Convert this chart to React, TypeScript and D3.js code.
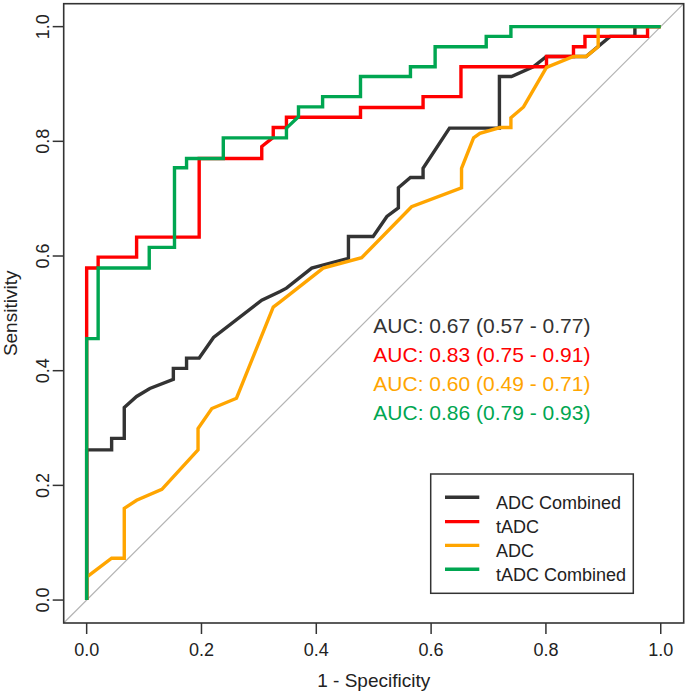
import React from "react";
import * as d3 from "d3";

const seriesNames = ["ADC Combined", "tADC", "ADC", "tADC Combined"];
const seriesColors = ["#333333", "#FF0000", "#FFA500", "#00A651"];
const aucLabels = [
  "AUC: 0.67 (0.57 - 0.77)",
  "AUC: 0.83 (0.75 - 0.91)",
  "AUC: 0.60 (0.49 - 0.71)",
  "AUC: 0.86 (0.79 - 0.93)",
];

const adcCombinedFpr = [0, 0, 0.0435, 0.0435, 0.0655, 0.0655, 0.087, 0.110, 0.151, 0.151, 0.174, 0.174, 0.196, 0.221, 0.305, 0.337, 0.348, 0.392, 0.456, 0.456, 0.499, 0.523, 0.543, 0.543, 0.564, 0.586, 0.586, 0.632, 0.719, 0.719, 0.740, 0.778, 0.801, 0.87, 0.912, 0.955, 0.955, 1];
const adcCombinedTpr = [0, 0.262, 0.262, 0.282, 0.282, 0.336, 0.355, 0.369, 0.385, 0.404, 0.404, 0.422, 0.422, 0.458, 0.523, 0.538, 0.544, 0.579, 0.596, 0.634, 0.634, 0.669, 0.684, 0.719, 0.737, 0.737, 0.753, 0.823, 0.823, 0.913, 0.913, 0.930, 0.948, 0.948, 0.983, 0.983, 1, 1];

const tadcFpr = [0, 0, 0.020, 0.020, 0.087, 0.087, 0.196, 0.196, 0.305, 0.305, 0.325, 0.325, 0.348, 0.348, 0.477, 0.477, 0.586, 0.586, 0.652, 0.652, 0.801, 0.801, 0.848, 0.848, 0.868, 0.868, 0.977, 0.977, 1];
const tadcTpr = [0, 0.579, 0.579, 0.598, 0.598, 0.633, 0.633, 0.770, 0.770, 0.791, 0.807, 0.824, 0.824, 0.842, 0.842, 0.859, 0.859, 0.878, 0.878, 0.930, 0.930, 0.948, 0.948, 0.965, 0.965, 0.983, 0.983, 1, 1];

const adcFpr = [0, 0, 0.0435, 0.0655, 0.0655, 0.087, 0.131, 0.194, 0.194, 0.218, 0.261, 0.325, 0.337, 0.412, 0.479, 0.566, 0.653, 0.653, 0.674, 0.685, 0.720, 0.739, 0.739, 0.761, 0.801, 0.848, 0.870, 0.891, 0.891, 1];
const adcTpr = [0, 0.040, 0.073, 0.073, 0.160, 0.174, 0.193, 0.262, 0.299, 0.334, 0.352, 0.511, 0.520, 0.579, 0.597, 0.686, 0.719, 0.753, 0.806, 0.814, 0.824, 0.824, 0.841, 0.860, 0.929, 0.948, 0.948, 0.965, 1, 1];

const tadcCombinedFpr = [0, 0, 0.020, 0.020, 0.109, 0.109, 0.153, 0.153, 0.174, 0.174, 0.238, 0.238, 0.348, 0.348, 0.369, 0.369, 0.411, 0.411, 0.477, 0.477, 0.564, 0.564, 0.607, 0.607, 0.696, 0.696, 0.739, 0.739, 1];
const tadcCombinedTpr = [0, 0.456, 0.456, 0.579, 0.579, 0.615, 0.615, 0.754, 0.754, 0.770, 0.770, 0.806, 0.806, 0.823, 0.843, 0.860, 0.860, 0.878, 0.878, 0.913, 0.913, 0.930, 0.930, 0.965, 0.965, 0.983, 0.983, 1, 1];

const tickValues = [0, 0.2, 0.4, 0.6, 0.8, 1.0];
const tickLabels = ["0.0", "0.2", "0.4", "0.6", "0.8", "1.0"];

const W = 685;
const H = 693;
const FONT = "'Liberation Sans', Arial, sans-serif";

export default function App() {
  const left = 63.7, right = 683.7, top = 3.7, bottom = 623;
  const x = d3.scaleLinear().domain([-0.04, 1.04]).range([left, right]);
  const y = d3.scaleLinear().domain([-0.04, 1.04]).range([bottom, top]);

  const series = [
    [adcCombinedFpr, adcCombinedTpr],
    [tadcFpr, tadcTpr],
    [adcFpr, adcTpr],
    [tadcCombinedFpr, tadcCombinedTpr],
  ];
  const line = d3
    .line<[number, number]>()
    .x((d) => x(d[0]))
    .y((d) => y(d[1]));

  const legendRows = [497.3, 521.6, 545.4, 569.3];

  return (
    <svg
      width={W}
      height={H}
      style={{ position: "absolute", left: 0, top: 0, background: "#fff" }}
      fontFamily={FONT}
    >
      <rect x={0} y={0} width={W} height={H} fill="#fff" />
      {/* diagonal */}
      <line x1={x(-0.04)} y1={y(-0.04)} x2={x(1.04)} y2={y(1.04)} stroke="#b4b4b4" strokeWidth={1.2} />
      {/* curves */}
      {series.map(([fx, fy], i) => (
        <path
          key={i}
          d={line(fx.map((v, j) => [v, fy[j]] as [number, number])) || ""}
          fill="none"
          stroke={seriesColors[i]}
          strokeWidth={3.4}
          strokeLinejoin="miter"
        />
      ))}
      {/* box */}
      <rect x={left} y={top} width={right - left} height={bottom - top} fill="none" stroke="#333" strokeWidth={1.6} />
      {/* x ticks */}
      {tickValues.map((t, i) => (
        <g key={"xt" + i}>
          <line x1={x(t)} x2={x(t)} y1={bottom} y2={bottom + 11} stroke="#333" strokeWidth={1.5} />
          <text x={x(t)} y={656} textAnchor="middle" fontSize={18} fill="#222">
            {tickLabels[i]}
          </text>
        </g>
      ))}
      {/* y ticks */}
      {tickValues.map((t, i) => (
        <g key={"yt" + i}>
          <line x1={left} x2={left - 11} y1={y(t)} y2={y(t)} stroke="#333" strokeWidth={1.5} />
          <text
            transform={`translate(49,${y(t)}) rotate(-90)`}
            textAnchor="middle"
            fontSize={18}
            fill="#222"
          >
            {tickLabels[i]}
          </text>
        </g>
      ))}
      {/* axis titles */}
      <text x={(left + right) / 2} y={687} textAnchor="middle" fontSize={19} fill="#222">
        1 - Specificity
      </text>
      <text transform={`translate(17,${(top + bottom) / 2}) rotate(-90)`} textAnchor="middle" fontSize={19} fill="#222">
        Sensitivity
      </text>
      {/* AUC labels */}
      {aucLabels.map((s, i) => (
        <text key={"auc" + i} x={373.3} y={333.3 + i * 28.9} fontSize={21} fill={seriesColors[i]}>
          {s}
        </text>
      ))}
      {/* legend */}
      <rect x={430.7} y={474} width={633.3 - 430.7} height={593.3 - 474} fill="#fff" stroke="#333" strokeWidth={1.5} />
      {seriesNames.map((s, i) => (
        <g key={"lg" + i}>
          <line x1={445} x2={479.3} y1={legendRows[i]} y2={legendRows[i]} stroke={seriesColors[i]} strokeWidth={3.4} />
          <text x={496} y={legendRows[i] + 11.5} fontSize={18} fill="#222">
            {s}
          </text>
        </g>
      ))}
    </svg>
  );
}
